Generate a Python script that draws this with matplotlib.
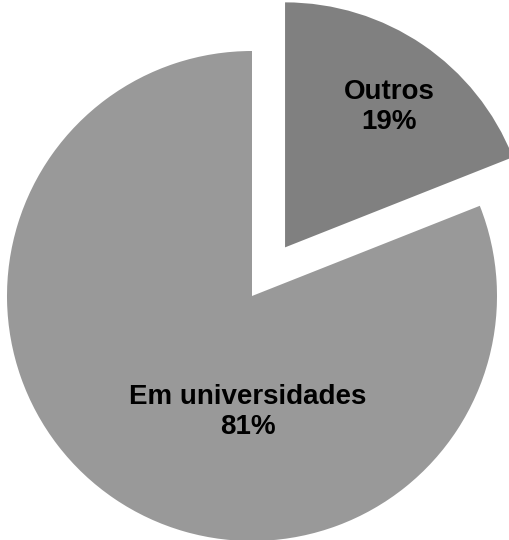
import matplotlib.pyplot as plt

categories = ['Outros', 'Em universidades']
shares = [19, 81]
colors = ['#808080', '#999999']
explode = [0.24, 0]

plt.rcParams['font.family'] = ['Liberation Sans', 'DejaVu Sans']

fig = plt.figure(figsize=(5.1, 5.4), dpi=100)
ax = fig.add_axes([0, 0, 1, 1])

wedges, _ = ax.pie(shares, colors=colors, explode=explode, startangle=90,
                   counterclock=False, radius=1.0)

# label positions (data coords)
label_pos = [(0.559, 0.771), (-0.016, -0.473)]
for name, val, (x, y) in zip(categories, shares, label_pos):
  ax.text(x, y, f'{name}\n{val}%', ha='center', va='center',
          fontsize=20, fontweight='bold', color='black', linespacing=1.17)

ax.set_aspect('equal')
ax.set_xlim(-252 / 245, (510 - 252) / 245)
ax.set_ylim(-(540 - 296) / 245, 296 / 245)
ax.axis('off')

fig.savefig('out.png', dpi=100)
